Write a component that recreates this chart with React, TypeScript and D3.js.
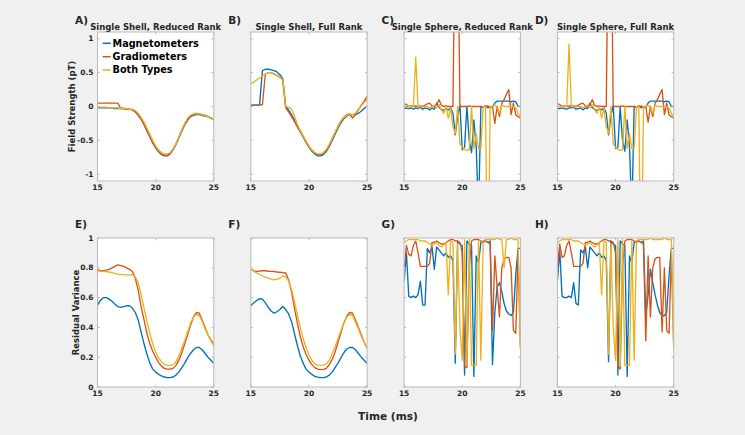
import React from 'react';
import * as d3 from 'd3';

// ---------- data ----------
const timeSmooth = [15,15.25,15.5,15.75,16,16.25,16.5,16.75,17,17.25,17.5,17.75,18,18.25,18.5,18.75,19,19.25,19.5,19.75,20,20.25,20.5,20.75,21,21.25,21.5,21.75,22,22.25,22.5,22.75,23,23.25,23.5,23.75,24,24.25,24.5,24.75,25];
const timeNoisy = [15,15.2,15.4,15.6,15.8,16,16.2,16.4,16.6,16.8,17,17.2,17.4,17.6,17.8,18,18.2,18.4,18.6,18.8,19,19.2,19.4,19.6,19.8,20,20.2,20.4,20.6,20.8,21,21.2,21.4,21.6,21.8,22,22.2,22.4,22.6,22.8,23,23.2,23.4,23.6,23.8,24,24.2,24.4,24.6,24.8,25];

const seriesNames = ['Magnetometers', 'Gradiometers', 'Both Types'];
const seriesColors = ['#0072BD', '#D95319', '#EDB120'];

// A) Single Shell, Reduced Rank – field strength (pT)
const magA = [-0.02,-0.02,-0.02,-0.02,-0.02,-0.02,-0.03,-0.03,-0.03,-0.03,-0.04,-0.04,-0.05,-0.08,-0.13,-0.19,-0.27,-0.36,-0.45,-0.54,-0.61,-0.67,-0.71,-0.73,-0.73,-0.7,-0.64,-0.56,-0.46,-0.36,-0.27,-0.2,-0.15,-0.13,-0.12,-0.12,-0.13,-0.14,-0.15,-0.17,-0.2];
const gradA = [0.05,0.05,0.05,0.05,0.05,0.05,0.05,0.05,-0.03,-0.03,-0.04,-0.04,-0.05,-0.07,-0.12,-0.18,-0.26,-0.35,-0.44,-0.53,-0.6,-0.66,-0.7,-0.72,-0.72,-0.69,-0.63,-0.55,-0.45,-0.35,-0.26,-0.19,-0.14,-0.12,-0.11,-0.11,-0.12,-0.13,-0.15,-0.17,-0.2];
const bothA = [-0.01,-0.01,-0.01,-0.01,-0.02,-0.02,-0.02,-0.02,-0.03,-0.03,-0.03,-0.04,-0.04,-0.06,-0.1,-0.16,-0.23,-0.32,-0.41,-0.5,-0.58,-0.64,-0.68,-0.7,-0.7,-0.68,-0.63,-0.55,-0.45,-0.34,-0.25,-0.17,-0.13,-0.11,-0.1,-0.11,-0.12,-0.13,-0.15,-0.17,-0.2];

// B) Single Shell, Full Rank
const magB = [0.02,0.02,0.02,0.02,0.53,0.55,0.55,0.54,0.53,0.51,0.47,0.41,0.0,-0.05,-0.12,-0.2,-0.29,-0.37,-0.45,-0.53,-0.6,-0.66,-0.7,-0.73,-0.73,-0.71,-0.66,-0.59,-0.5,-0.41,-0.32,-0.24,-0.18,-0.14,-0.12,-0.12,-0.12,-0.1,-0.07,-0.03,0.01];
const gradB = [0.02,0.02,0.02,0.02,0.03,0.48,0.5,0.5,0.48,0.46,0.43,0.39,-0.02,-0.08,-0.15,-0.22,-0.3,-0.37,-0.44,-0.52,-0.59,-0.65,-0.69,-0.71,-0.71,-0.69,-0.64,-0.57,-0.48,-0.39,-0.3,-0.22,-0.16,-0.12,-0.11,-0.17,-0.12,-0.05,0.02,0.08,0.15];
const bothB = [0.33,0.36,0.39,0.42,0.45,0.48,0.5,0.5,0.48,0.46,0.43,0.39,0.0,-0.01,-0.04,-0.14,-0.26,-0.35,-0.43,-0.51,-0.58,-0.64,-0.68,-0.7,-0.7,-0.68,-0.63,-0.56,-0.47,-0.38,-0.29,-0.21,-0.16,-0.13,-0.11,-0.12,-0.1,-0.04,0.01,0.06,0.1];

// C) Single Sphere, Reduced Rank
const magC = [-0.03,-0.02,-0.03,-0.02,-0.04,-0.02,-0.03,-0.01,-0.04,-0.02,-0.03,-0.05,-0.02,-0.04,0.05,-0.01,-0.04,-0.06,-0.03,-0.05,-0.02,-0.1,-0.42,-0.15,0.02,-0.64,-0.6,0.0,-0.5,-0.68,-0.2,-0.6,-1.6,0.0,-0.01,0.01,-0.02,0.0,-0.01,0.05,0.08,0.08,0.08,0.08,0.08,0.08,0.07,0.08,0.07,0.0,0.0];
const gradC = [0.04,0.03,0.0,0.01,0.0,0.01,0.0,0.01,0.0,0.02,0.04,0.05,0.01,0.0,0.03,0.1,0.02,0.0,0.01,0.0,0.0,0.0,3,3,0.0,0.0,0.0,0.0,0.01,0.0,0.0,0.0,0.0,0.0,-0.01,0.0,0.01,-0.02,0.0,-0.25,0.0,-0.15,0.05,0.1,0.18,0.25,-0.12,0.05,-0.12,-0.15,-0.17];
const bothC = [0.0,0.0,0.0,0.0,0.0,0.73,0.0,0.0,-0.01,0.0,0.0,-0.02,0.0,0.02,-0.02,0.03,-0.05,-0.1,0.0,-0.17,-0.02,-0.3,-0.4,0.0,-0.55,-0.6,-0.63,-0.65,-0.64,0.0,-0.62,-0.4,-0.62,-0.62,0.0,0.0,-3,0.0,0.0,0.02,-0.02,-0.1,0.02,0.0,0.0,0.0,0.0,0.0,-0.02,-0.1,-0.15];

// D) Single Sphere, Full Rank
const magD = [-0.03,-0.03,-0.02,-0.03,-0.04,-0.02,-0.02,-0.01,-0.04,-0.03,-0.02,-0.05,-0.02,-0.03,0.05,-0.02,-0.04,-0.06,-0.03,-0.05,-0.02,-0.1,-0.42,-0.15,0.02,-0.62,-0.6,0.0,-0.5,-0.66,-0.2,-0.6,-1.6,0.0,-0.01,0.01,-0.02,0.0,-0.01,0.05,0.08,0.08,0.08,0.08,0.08,0.08,0.07,0.08,0.07,0.0,0.0];
const gradD = [0.04,0.03,0.0,0.01,0.0,0.01,0.0,0.01,0.0,0.02,0.04,0.05,0.01,0.0,0.03,0.1,0.02,0.0,0.01,0.0,0.0,0.0,3,3,0.0,0.0,0.0,0.0,0.01,0.0,0.0,0.0,0.0,0.0,-0.01,0.0,0.01,-0.02,0.0,-0.23,0.0,-0.15,0.05,0.1,0.18,0.25,-0.12,0.05,-0.12,-0.15,-0.17];
const bothD = [0.0,0.0,0.0,0.0,0.0,0.92,0.0,0.0,-0.01,0.0,0.0,-0.02,0.0,0.02,-0.02,0.03,-0.05,-0.1,0.0,-0.17,-0.02,-0.3,-0.4,0.0,-0.55,-0.6,-0.63,-0.65,-0.64,0.0,-0.62,-0.4,-0.62,-0.62,0.0,0.0,-3,0.0,0.0,0.02,-0.02,-0.1,0.02,0.0,0.0,0.0,0.0,0.0,-0.02,-0.1,-0.15];

// E) residual variance, Single Shell, Reduced Rank
const magE = [0.55,0.58,0.6,0.6,0.59,0.575,0.555,0.54,0.535,0.54,0.545,0.545,0.53,0.5,0.45,0.37,0.29,0.22,0.16,0.12,0.1,0.085,0.075,0.067,0.063,0.063,0.067,0.08,0.1,0.13,0.16,0.195,0.225,0.25,0.265,0.265,0.25,0.225,0.2,0.18,0.16];
const gradE = [0.79,0.78,0.78,0.785,0.79,0.8,0.81,0.82,0.815,0.81,0.8,0.79,0.775,0.73,0.65,0.54,0.45,0.36,0.29,0.24,0.2,0.165,0.14,0.125,0.12,0.12,0.125,0.145,0.18,0.23,0.29,0.35,0.415,0.47,0.5,0.495,0.45,0.4,0.35,0.315,0.29];
const bothE = [0.78,0.778,0.775,0.775,0.772,0.767,0.762,0.758,0.755,0.754,0.753,0.753,0.752,0.74,0.7,0.62,0.53,0.44,0.36,0.29,0.235,0.195,0.17,0.152,0.145,0.145,0.15,0.17,0.21,0.26,0.31,0.37,0.43,0.47,0.485,0.48,0.44,0.39,0.35,0.31,0.275];

// F) Single Shell, Full Rank
const magF = [0.545,0.565,0.58,0.592,0.59,0.565,0.535,0.51,0.495,0.505,0.52,0.54,0.52,0.49,0.44,0.36,0.28,0.21,0.16,0.12,0.1,0.085,0.072,0.066,0.063,0.063,0.067,0.08,0.1,0.13,0.16,0.195,0.23,0.255,0.265,0.265,0.25,0.225,0.2,0.18,0.16];
const gradF = [0.79,0.78,0.775,0.778,0.78,0.78,0.777,0.776,0.775,0.772,0.77,0.768,0.765,0.72,0.64,0.53,0.43,0.34,0.27,0.22,0.18,0.15,0.13,0.12,0.117,0.118,0.125,0.15,0.185,0.235,0.3,0.365,0.43,0.475,0.5,0.495,0.45,0.4,0.35,0.3,0.26];
const bothF = [0.79,0.777,0.765,0.755,0.745,0.737,0.73,0.724,0.72,0.724,0.73,0.745,0.74,0.71,0.655,0.575,0.485,0.4,0.325,0.265,0.215,0.18,0.155,0.147,0.145,0.147,0.155,0.18,0.225,0.27,0.325,0.38,0.43,0.47,0.485,0.48,0.435,0.39,0.34,0.3,0.26];

// G) Single Sphere, Reduced Rank
const magG = [0.71,0.9,0.61,0.6,0.61,0.6,0.62,0.71,0.55,0.55,0.93,0.9,0.94,0.79,0.94,0.92,0.9,0.88,0.9,0.87,0.88,0.85,0.16,0.98,0.96,0.95,0.08,0.98,0.96,0.95,0.07,0.88,0.83,0.97,0.98,0.98,0.97,0.98,0.15,0.5,0.67,0.7,0.64,0.56,0.51,0.49,0.48,0.5,0.75,0.93,0.93];
const gradG = [0.79,0.95,0.89,0.88,0.95,0.98,0.9,0.81,0.81,0.81,0.81,0.83,0.97,0.97,0.98,0.97,0.96,0.96,0.97,0.98,0.99,0.99,0.98,0.98,0.97,0.9,0.14,0.13,0.8,0.98,0.99,0.99,0.99,0.98,0.97,0.98,0.97,0.96,0.38,0.88,0.67,0.47,0.8,0.86,0.87,0.87,0.8,0.38,0.36,0.9,0.27];
const bothG = [0.97,0.98,0.99,0.99,0.99,0.99,0.99,0.98,0.98,0.98,0.97,0.96,0.95,0.96,0.97,0.95,0.94,0.95,0.97,0.62,0.98,0.97,0.22,0.96,0.4,0.18,0.99,0.14,0.99,0.145,0.145,0.145,0.98,0.18,0.98,0.99,0.99,0.99,0.99,0.99,1.0,0.99,0.99,0.8,0.99,0.99,1.0,0.99,0.99,0.99,0.26];

// H) Single Sphere, Full Rank
const magH = [0.71,0.92,0.61,0.6,0.6,0.61,0.6,0.7,0.56,0.55,0.92,0.9,0.94,0.8,0.94,0.92,0.9,0.88,0.9,0.87,0.88,0.85,0.17,0.98,0.96,0.95,0.08,0.98,0.96,0.95,0.07,0.88,0.83,0.97,0.98,0.98,0.97,0.98,0.48,0.62,0.79,0.7,0.62,0.55,0.5,0.48,0.48,0.5,0.75,0.93,0.93];
const gradH = [0.79,0.96,0.87,0.88,0.95,0.98,0.9,0.81,0.81,0.81,0.81,0.83,0.97,0.97,0.98,0.97,0.96,0.96,0.97,0.98,0.99,0.99,0.98,0.98,0.97,0.9,0.14,0.12,0.8,0.98,0.99,0.99,0.99,0.98,0.97,0.98,0.97,0.96,0.31,0.88,0.47,0.8,0.86,0.87,0.87,0.37,0.8,0.38,0.36,0.9,0.27];
const bothH = [0.97,0.98,0.99,0.99,0.99,0.99,0.99,0.98,0.98,0.98,0.97,0.96,0.95,0.96,0.97,0.95,0.94,0.95,0.97,0.62,0.98,0.97,0.22,0.96,0.4,0.18,0.99,0.14,0.99,0.145,0.145,0.145,0.98,0.18,0.98,0.99,0.99,0.99,0.99,0.99,1.0,0.99,0.99,0.99,0.99,0.99,1.0,0.99,0.99,0.99,0.26];

const xTicks = [15, 20, 25];
const fieldTicks = [-1, -0.5, 0, 0.5, 1];
const rvTicks = [0, 0.2, 0.4, 0.6, 0.8, 1];

const panelLetters = ['A)', 'B)', 'C)', 'D)', 'E)', 'F)', 'G)', 'H)'];
const panelTitles = ['Single Shell, Reduced Rank', 'Single Shell, Full Rank', 'Single Sphere, Reduced Rank', 'Single Sphere, Full Rank'];

// ---------- layout ----------
const W = 745;
const H = 435;
const colLeft = [97.5, 250.8, 404.1, 557.4];
const pw = 116.3;
const ph = 149;
const rowTop = [32, 238];
const FONT = '"DejaVu Sans", Arial, sans-serif';
const AXIS = '#b9b9b9';
const TXT = '#262626';

type PanelProps = {
  id: string;
  left: number;
  top: number;
  time: number[];
  series: number[][];
  yDomain: [number, number];
  yTicks: number[];
  showYLabels: boolean;
  letter: string;
  title?: string;
};

function Panel({ id, left, top, time, series, yDomain, yTicks, showYLabels, letter, title }: PanelProps) {
  const x = d3.scaleLinear().domain([15, 25]).range([0, pw]);
  const y = d3.scaleLinear().domain(yDomain).range([ph, 0]);
  const line = (vals: number[]) =>
    d3.line<number>().x((_, i) => x(time[i])).y((d) => y(d))(vals) || '';
  const tl = 2.2;
  return (
    <g transform={`translate(${left},${top})`}>
      <defs>
        <clipPath id={`clip-${id}`}>
          <rect x={0} y={0} width={pw} height={ph} />
        </clipPath>
      </defs>
      <rect x={0} y={0} width={pw} height={ph} fill="#ffffff" />
      <g clipPath={`url(#clip-${id})`}>
        {series.map((s, k) => (
          <path key={k} d={line(s)} fill="none" stroke={seriesColors[k]} strokeWidth={1.35} strokeLinejoin="round" />
        ))}
      </g>
      <rect x={0} y={0} width={pw} height={ph} fill="none" stroke={AXIS} strokeWidth={1} />
      {xTicks.map((t) => (
        <g key={`xt${t}`}>
          <line x1={x(t)} x2={x(t)} y1={ph} y2={ph - tl} stroke={AXIS} />
          <line x1={x(t)} x2={x(t)} y1={0} y2={tl} stroke={AXIS} />
          <text x={x(t)} y={ph + 9.2} textAnchor="middle" fontFamily={FONT} fontWeight="bold" fontSize={7.5} fill={TXT}>
            {t}
          </text>
        </g>
      ))}
      {yTicks.map((t) => (
        <g key={`yt${t}`}>
          <line x1={0} x2={tl} y1={y(t)} y2={y(t)} stroke={AXIS} />
          <line x1={pw} x2={pw - tl} y1={y(t)} y2={y(t)} stroke={AXIS} />
          {showYLabels && (
            <text x={-4} y={y(t)} dy="0.35em" textAnchor="end" fontFamily={FONT} fontWeight="bold" fontSize={7.5} fill={TXT}>
              {String(t)}
            </text>
          )}
        </g>
      ))}
      <text x={-22.5} y={top < 100 ? -8 : -10} fontFamily={FONT} fontWeight="bold" fontSize={10.5} fill={TXT}>
        {letter}
      </text>
      {title && (
        <text x={pw / 2} y={-2.5} textAnchor="middle" fontFamily={FONT} fontWeight="bold" fontSize={8.5} fill={TXT}>
          {title}
        </text>
      )}
    </g>
  );
}

export default function App() {
  const topSeries = [
    [magA, gradA, bothA],
    [magB, gradB, bothB],
    [magC, gradC, bothC],
    [magD, gradD, bothD],
  ];
  const botSeries = [
    [magE, gradE, bothE],
    [magF, gradF, bothF],
    [magG, gradG, bothG],
    [magH, gradH, bothH],
  ];
  const topTimes = [timeSmooth, timeSmooth, timeNoisy, timeNoisy];
  const legendRows = [43.3, 56.7, 70];
  return (
    <svg width={W} height={H} style={{ position: 'absolute', left: 0, top: 0 }}>
      <rect x={0} y={0} width={W} height={H} fill="#f0f0f0" />
      {topSeries.map((s, i) => (
        <Panel
          key={`t${i}`}
          id={`t${i}`}
          left={colLeft[i]}
          top={rowTop[0]}
          time={topTimes[i]}
          series={s}
          yDomain={[-1.1, 1.1]}
          yTicks={fieldTicks}
          showYLabels={i === 0}
          letter={panelLetters[i]}
          title={panelTitles[i]}
        />
      ))}
      {botSeries.map((s, i) => (
        <Panel
          key={`b${i}`}
          id={`b${i}`}
          left={colLeft[i]}
          top={rowTop[1]}
          time={topTimes[i]}
          series={s}
          yDomain={[0, 1]}
          yTicks={rvTicks}
          showYLabels={i === 0}
          letter={panelLetters[i + 4]}
        />
      ))}
      {/* legend */}
      {seriesNames.map((n, k) => (
        <g key={n}>
          <line x1={102.7} x2={110.7} y1={legendRows[k]} y2={legendRows[k]} stroke={seriesColors[k]} strokeWidth={1.5} />
          <text x={112.5} y={legendRows[k]} dy="0.36em" fontFamily={FONT} fontWeight="bold" fontSize={9.7} fill="#000">
            {n}
          </text>
        </g>
      ))}
      {/* axis labels */}
      <text transform={`translate(75,106.5) rotate(-90)`} textAnchor="middle" fontFamily={FONT} fontWeight="bold" fontSize={8.5} fill={TXT}>
        Field Strength (pT)
      </text>
      <text transform={`translate(78.5,312.5) rotate(-90)`} textAnchor="middle" fontFamily={FONT} fontWeight="bold" fontSize={8.5} fill={TXT}>
        Residual Variance
      </text>
      <text x={388} y={419.5} textAnchor="middle" fontFamily={FONT} fontWeight="bold" fontSize={10.6} fill={TXT}>
        Time (ms)
      </text>
    </svg>
  );
}
